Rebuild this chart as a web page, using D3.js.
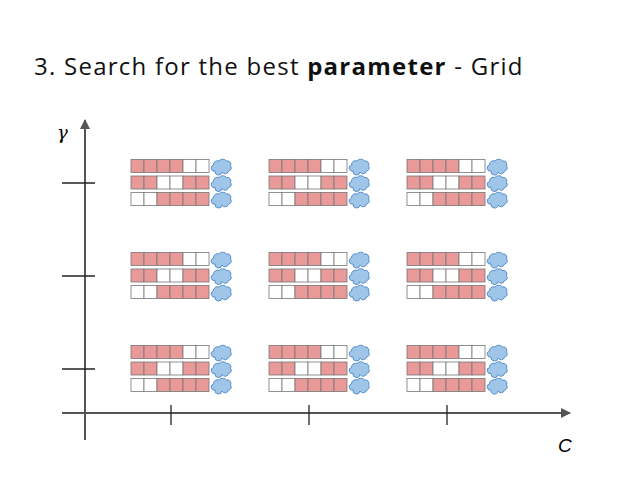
<!DOCTYPE html><html><head><meta charset="utf-8"><script src="https://cdn.jsdelivr.net/npm/d3@7"></script>
<style>body{margin:0;background:#fff}</style></head><body><svg id="c" width="638" height="478"></svg>
<script>
const cValues=[1,2,3];
const gammaValues=[1,2,3];
const foldPatterns=[[1,1,1,1,0,0],[1,1,0,0,1,1],[0,0,1,1,1,1]];
const svg=d3.select("#c");
const x=d3.scaleLinear().domain([0,1]).range([33,171]);
const y=d3.scaleLinear().domain([0,1]).range([462,369]);
svg.append("text").attr("x",34).attr("y",75).attr("font-family","Open Sans").attr("font-size",24).attr("letter-spacing",1.25).attr("fill","#111")
 .html('3. Search for the best <tspan font-weight="bold">parameter</tspan> - Grid');
const ax="#555";
svg.append("defs").append("marker").attr("id","ar").attr("viewBox","0 0 10 10").attr("refX",9).attr("refY",5)
 .attr("markerWidth",5).attr("markerHeight",5).attr("orient","auto").attr("markerUnits","strokeWidth")
 .append("path").attr("d","M0,0L10,5L0,10z").attr("fill",ax);
svg.append("line").attr("x1",62).attr("x2",570).attr("y1",413).attr("y2",413).attr("stroke",ax).attr("stroke-width",2).attr("marker-end","url(#ar)");
svg.append("line").attr("x1",85).attr("x2",85).attr("y1",440).attr("y2",120).attr("stroke",ax).attr("stroke-width",2).attr("marker-end","url(#ar)");
cValues.forEach(c=>svg.append("line").attr("x1",x(c)).attr("x2",x(c)).attr("y1",405).attr("y2",425).attr("stroke","#222").attr("stroke-width",1.3));
gammaValues.forEach(g=>svg.append("line").attr("x1",62).attr("x2",95).attr("y1",y(g)).attr("y2",y(g)).attr("stroke","#222").attr("stroke-width",1.3));
svg.append("text").attr("x",57).attr("y",139).attr("font-family","DejaVu Serif").attr("font-style","italic").attr("font-size",18).text("γ");
svg.append("text").attr("x",558).attr("y",452).attr("font-family","Liberation Sans").attr("font-style","italic").attr("font-size",19).text("C");
function cloud(g,cx,cy){
 const p=`M${cx-7},${cy+5} a3,3 0 0 1 -1.5,-6 a4,4 0 0 1 5.5,-4 a4.5,4 0 0 1 7.5,0 a3.5,3.5 0 0 1 4,5 a3,3 0 0 1 -2,5 a3.5,3.5 0 0 1 -6.5,1 a3.5,3.5 0 0 1 -7,-1z`;
 g.append("path").attr("d",p).attr("fill","#9fc5e8").attr("stroke","#3d7cc4").attr("stroke-width",0.8);
}
const cw=13,ch=13;
cValues.forEach(c=>gammaValues.forEach(gm=>{
 const x0=x(c)-40,y0=y(gm)-23.5;
 const g=svg.append("g");
 foldPatterns.forEach((row,ri)=>{
  const ry=y0+ri*16.5;
  row.forEach((v,i)=>g.append("rect").attr("x",x0+i*cw).attr("y",ry).attr("width",cw).attr("height",ch)
   .attr("fill",v?"#ea9999":"#fff").attr("stroke","#777").attr("stroke-width",0.8));
  cloud(g,x0+6*cw+13,ry+ch/2);
 });
}));
</script></body></html>
